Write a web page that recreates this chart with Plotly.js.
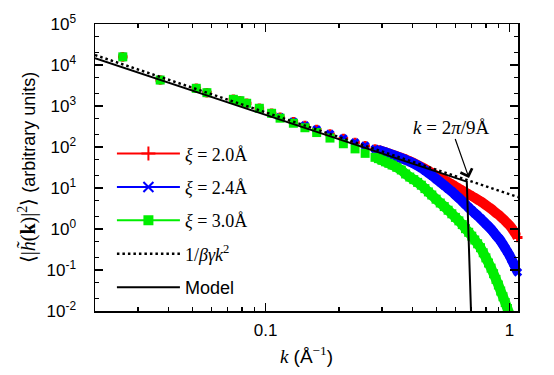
<!DOCTYPE html>
<html>
<head>
<meta charset="utf-8">
<script src="https://cdn.plot.ly/plotly-3.0.1.min.js"></script>
<style>html,body{margin:0;padding:0;background:#fff;}</style>
</head>
<body>
<div id="chart" style="width:554px;height:375px;"></div>
<script>
// ---- data ----
const kLow = [0.0260, 0.0370, 0.0520, 0.0575, 0.0738, 0.0785, 0.0837, 0.0943, 0.1059];
const vLow = [15800, 4300, 2700, 2110, 1455, 1345, 1165, 880, 664];

const kMid = [0.1147, 0.130, 0.145, 0.162, 0.1837, 0.2084, 0.2327, 0.256, 0.281];
const vMidRB = [532, 414, 333, 267, 207, 161, 129, 107, 89];
const vMidG = [505, 380, 295, 225, 165, 120, 90, 70, 56];

const kDense = [0.29, 0.30, 0.31, 0.32, 0.33, 0.345, 0.36, 0.375, 0.39, 0.405, 0.42, 0.435, 0.45, 0.465, 0.48,
  0.50, 0.52, 0.54, 0.56, 0.58, 0.60, 0.62, 0.64, 0.66, 0.68, 0.70, 0.72, 0.74, 0.76, 0.78, 0.80,
  0.82, 0.84, 0.86, 0.88, 0.90, 0.92, 0.94, 0.96, 0.98, 1.00, 1.02, 1.04, 1.06, 1.08];

const vRed = [84, 79, 74, 69.5, 65, 59.5, 54.5, 50, 45, 40.5, 36.6, 32.9, 29.2, 26.1, 23.4,
  20.2, 17.7, 15.7, 13.9, 12.3, 10.9, 9.72, 8.69, 7.77, 6.98, 6.38, 5.77, 5.21, 4.74, 4.26, 3.83,
  3.44, 3.11, 2.78, 2.48, 2.23, 2.00, 1.77, 1.57, 1.38, 1.22, 1.06, 0.894, 0.755, 0.620];

const vBlue = [84, 79, 74, 69.5, 65, 59, 53.5, 48.5, 44.0, 39.5, 35.2, 30.9, 26.9, 23.4, 20.3,
  16.7, 13.9, 11.6, 9.72, 8.17, 6.79, 5.70, 4.76, 3.96, 3.33, 2.83, 2.43, 2.10, 1.81, 1.55, 1.33,
  1.15, 0.989, 0.836, 0.706, 0.603, 0.510, 0.419, 0.340, 0.278, 0.226, 0.179, 0.142, 0.112, 0.0884];

const vGreen = [52, 47.5, 43.5, 40, 36.5, 32, 27.5, 22, 18.5, 16, 13.7, 11.7, 9.67, 8.03, 6.75,
  5.33, 4.31, 3.52, 2.87, 2.35, 1.92, 1.58, 1.28, 1.02, 0.831, 0.668, 0.539, 0.436, 0.350, 0.263, 0.198,
  0.148, 0.111, 0.0813, 0.0590, 0.0431, 0.0307, 0.0223, 0.0161, 0.0115, 0.00845];

const kPower = [0.02, 1.083];
const vPower = [17500, 6.0];

const kModel = [0.02, 0.668, 0.695, 0.70];
const vModel = [14550, 14.3, 0.01, 0.006];

const yTickVals = [0.01, 0.1, 1, 10, 100, 1000, 10000, 100000];
const yTickText = ['10<sup>-2</sup>', '10<sup>-1</sup>', '10<sup>0</sup>', '10<sup>1</sup>',
  '10<sup>2</sup>', '10<sup>3</sup>', '10<sup>4</sup>', '10<sup>5</sup>'];
const xTickVals = [0.1, 1];
const xTickText = ['0.1', '1'];

const seriesNames = ['<i>ξ</i> = 2.0Å', '<i>ξ</i> = 2.4Å', '<i>ξ</i> = 3.0Å'];
const seriesColors = ['#ff0000', '#0000ff', '#00ee00'];
const seriesSymbols = ['cross', 'x', 'square'];
const legendSymbols = ['cross-thin', 'x-thin', 'square'];

// ---- traces ----
const serif = 'Liberation Serif, DejaVu Serif, serif';
const sans = 'Liberation Sans, Arial, sans-serif';

function join(a, b, c) { return a.concat(b, c); }
const kDenseG = kDense.slice(0, vGreen.length);

const denseVals = [vRed, vBlue, vGreen];
const denseK = [kDense, kDense, kDenseG];
const midVals = [vMidRB, vMidRB, vMidG];

const traces = [];
for (let i = 0; i < 3; i++) {
  // dense band of overlapping points (k > 0.29)
  traces.push({
    x: denseK[i], y: denseVals[i], type: 'scatter', mode: 'lines', showlegend: false,
    line: {color: seriesColors[i], width: 10, shape: 'spline', smoothing: 0.6}
  });
  traces.push({
    x: join(kLow, kMid, denseK[i]), y: join(vLow, midVals[i], denseVals[i]),
    type: 'scatter', mode: 'markers', showlegend: false, cliponaxis: false,
    marker: {symbol: seriesSymbols[i], size: i === 2 ? 9 : 8, color: seriesColors[i], line: {width: 0}}
  });
}
traces.push({x: kPower, y: vPower, type: 'scatter', mode: 'lines', showlegend: false,
  line: {color: '#000', width: 2.5, dash: '2.5px,3px'}});
traces.push({x: kModel, y: vModel, type: 'scatter', mode: 'lines', showlegend: false,
  line: {color: '#000', width: 2}});

// legend entries
for (let i = 0; i < 3; i++) {
  traces.push({x: [null], y: [null], type: 'scatter', mode: 'lines+markers', name: seriesNames[i],
    legendgroup: 'g' + i,
    line: {color: seriesColors[i], width: 2},
    marker: {symbol: legendSymbols[i], size: i === 2 ? 8 : 10, color: seriesColors[i],
      line: {color: seriesColors[i], width: 2}}});
}
traces.push({x: [null], y: [null], type: 'scatter', mode: 'lines', name: '1/<i>βγk</i><sup>2</sup>',
  legendgroup: 'g3', line: {color: '#000', width: 2.5, dash: '2.5px,3px'}});
traces.push({x: [null], y: [null], type: 'scatter', mode: 'lines',
  name: '<span style="font-family:Liberation Sans">Model</span>',
  legendgroup: 'g4', line: {color: '#000', width: 2}});

const layout = {
  width: 554, height: 375,
  margin: {l: 95, r: 36, t: 24, b: 64},
  paper_bgcolor: '#fff', plot_bgcolor: '#fff',
  font: {family: sans, color: '#000', size: 16},
  showlegend: true,
  legend: {x: 0.04, y: 0.612, xanchor: 'left', yanchor: 'top', bgcolor: 'rgba(0,0,0,0)',
    font: {family: serif, size: 18, color: '#000'}, tracegroupgap: 7, itemwidth: 63,
    traceorder: 'grouped'},
  xaxis: {
    type: 'log', range: [Math.log10(0.02), Math.log10(1.083)],
    showline: true, linecolor: '#000', linewidth: 1.5, mirror: 'ticks',
    ticks: 'inside', ticklen: 8, tickwidth: 1.3, tickcolor: '#000',
    tickmode: 'array', tickvals: xTickVals, ticktext: xTickText,
    tickfont: {family: sans, size: 17}, ticklabelstandoff: 3,
    minor: {ticks: 'inside', ticklen: 4, tickwidth: 1.2, tickcolor: '#000', dtick: 'D1'},
    showgrid: false, zeroline: false,
    title: {text: '<i><span style="font-family:Liberation Serif">k</span></i> (Å<sup><span style="font-family:Liberation Serif">−1</span></sup>)',
      font: {family: sans, size: 19}, standoff: 11}
  },
  yaxis: {
    type: 'log', range: [-2, 5],
    showline: true, linecolor: '#000', linewidth: 1.5, mirror: 'ticks',
    ticks: 'inside', ticklen: 8, tickwidth: 1.3, tickcolor: '#000',
    tickmode: 'array', tickvals: yTickVals, ticktext: yTickText,
    tickfont: {family: sans, size: 17}, ticklabelstandoff: 14,
    minor: {ticks: 'inside', ticklen: 4, tickwidth: 1.2, tickcolor: '#000', dtick: 'D2'},
    showgrid: false, zeroline: false,
    title: {text: '<span style="font-family:Liberation Serif;font-size:20px">⟨|<i>h̃</i>(<b>k</b>)|<sup>2</sup>⟩</span> (arbitrary units)',
      font: {family: sans, size: 18}, standoff: 6}
  },
  annotations: [{
    x: Math.log10(0.682), y: Math.log10(17.5), xref: 'x', yref: 'y',
    text: '<i>k</i> = 2<i>π</i>/9Å', font: {family: serif, size: 19, color: '#000'},
    showarrow: true, arrowhead: 4, arrowsize: 2, arrowwidth: 1.2, arrowcolor: '#000',
    ax: -18, ay: -51
  }]
};

Plotly.newPlot('chart', traces, layout, {displayModeBar: false, staticPlot: true});
</script>
</body>
</html>
